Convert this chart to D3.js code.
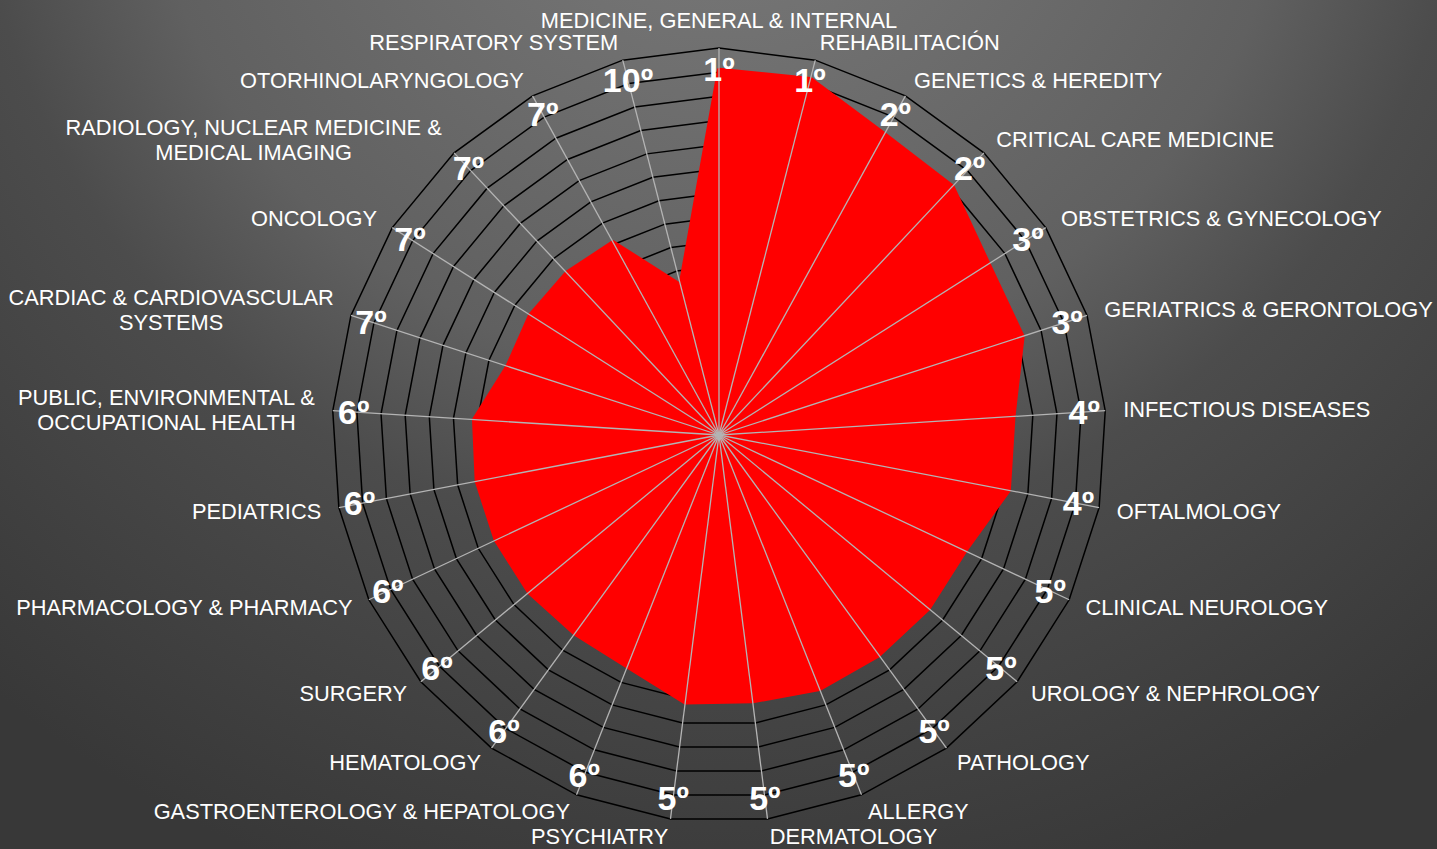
<!DOCTYPE html>
<html>
<head>
<meta charset="utf-8">
<style>
  body { margin: 0; background: #444; }
  svg { display: block; }
</style>
</head>
<body></body>

<script src='https://d3js.org/d3.v7.min.js'></script>
<script>

    const width = 1437;
    const height = 849;

    const categories = [
        "MEDICINE, GENERAL & INTERNAL", "REHABILITACIÓN", "GENETICS & HEREDITY",
        "CRITICAL CARE MEDICINE", "OBSTETRICS & GYNECOLOGY", "GERIATRICS & GERONTOLOGY",
        "INFECTIOUS DISEASES", "OFTALMOLOGY", "CLINICAL NEUROLOGY", "UROLOGY & NEPHROLOGY",
        "PATHOLOGY", "ALLERGY", "DERMATOLOGY", "PSYCHIATRY", "GASTROENTEROLOGY & HEPATOLOGY",
        "HEMATOLOGY", "SURGERY", "PHARMACOLOGY & PHARMACY", "PEDIATRICS",
        "PUBLIC, ENVIRONMENTAL &\nOCCUPATIONAL HEALTH", "CARDIAC & CARDIOVASCULAR\nSYSTEMS",
        "ONCOLOGY", "RADIOLOGY, NUCLEAR MEDICINE &\nMEDICAL IMAGING", "OTORHINOLARYNGOLOGY",
        "RESPIRATORY SYSTEM"
    ];
    const ranks = ["1º", "1º", "2º", "2º", "3º", "3º", "4º", "4º", "5º", "5º", "5º", "5º", "5º",
        "5º", "6º", "6º", "6º", "6º", "6º", "6º", "7º", "7º", "7º", "7º", "10º"];
    const values = [15.1, 15.2, 14.2, 14.1, 13.2, 13.2, 12.2, 12.2, 11.25, 11.25, 11.25, 11.3, 11.1,
        11.15, 10.3, 10.15, 10.2, 10.2, 10.2, 10.15, 9.2, 9.25, 9.2, 9.1, 6.4];
    const ringTicks = d3.range(1, 17); // 16 grid rings
    const maxValue = 16;

    const cx = 719, cy = 435, radius = 387;
    const n = categories.length;

    const r = d3.scaleLinear().domain([0, maxValue]).range([0, radius]);
    const angle = d3.scaleLinear().domain([0, n]).range([0, 2 * Math.PI]);

    const svg = d3.select("body").append("svg")
        .attr("width", width)
        .attr("height", height);

    // background
    const grad = svg.append("defs").append("radialGradient")
        .attr("id", "bg")
        .attr("gradientUnits", "userSpaceOnUse")
        .attr("cx", 719).attr("cy", -200).attr("r", 1150);
    [[0, "#787878"], [0.17, "#737373"], [0.5, "#606060"], [0.65, "#4c4c4c"],
     [0.91, "#3d3d3d"], [1, "#383838"]].forEach(function (s) {
        grad.append("stop").attr("offset", s[0]).attr("stop-color", s[1]);
    });
    svg.append("rect").attr("width", width).attr("height", height).attr("fill", "url(#bg)");

    const g = svg.append("g").attr("transform", "translate(" + cx + "," + cy + ")");

    const radial = d3.lineRadial()
        .angle(function (d, i) { return angle(i); })
        .curve(d3.curveLinearClosed);

    // grid rings
    g.selectAll(".ring")
        .data(ringTicks)
        .enter()
        .append("path")
        .attr("class", "ring")
        .attr("d", function (t) { return radial.radius(r(t))(categories); })
        .attr("fill", "none")
        .attr("stroke", "#000")
        .attr("stroke-width", 1.5);

    // data area
    g.append("path")
        .datum(values)
        .attr("d", d3.lineRadial()
            .angle(function (d, i) { return angle(i); })
            .radius(function (d) { return r(d); })
            .curve(d3.curveLinearClosed))
        .attr("fill", "#ff0000")
        .attr("stroke", "#ff0000")
        .attr("stroke-width", 4)
        .attr("stroke-linejoin", "round");

    // spokes
    g.selectAll(".spoke")
        .data(categories)
        .enter()
        .append("line")
        .attr("class", "spoke")
        .attr("x1", 0).attr("y1", 0)
        .attr("x2", function (d, i) { return r(maxValue) * Math.sin(angle(i)); })
        .attr("y2", function (d, i) { return -r(maxValue) * Math.cos(angle(i)); })
        .attr("stroke", "#b4b4b4")
        .attr("stroke-width", 1.3);

    // rank labels
    const rankR = radius - 21;
    g.selectAll(".rank")
        .data(ranks)
        .enter()
        .append("text")
        .attr("class", "rank")
        .attr("x", function (d, i) { return rankR * Math.sin(angle(i)); })
        .attr("y", function (d, i) { return -rankR * Math.cos(angle(i)); })
        .attr("dy", "0.35em")
        .attr("text-anchor", "middle")
        .attr("fill", "#fff")
        .style("font-family", "Liberation Sans, Arial, sans-serif")
        .style("font-weight", "bold")
        .style("font-size", "34px")
        .text(function (d) { return d; });

    // category labels
    const labR = radius + 18;
    const lineH = 25;
    categories.forEach(function (c, i) {
        const a = angle(i);
        const s = Math.sin(a), co = Math.cos(a);
        const lines = c.split("\n");
        let px = labR * s;
        let py = -labR * co;
        let side = s > 0.1 ? 1 : (s < -0.1 ? -1 : 0);
        if (side === 0) py = -(radius + 28) * co;
        const t = g.append("text")
            .attr("fill", "#fff")
            .attr("text-anchor", "middle")
            .style("font-family", "Liberation Sans, Arial, sans-serif")
            .style("font-size", "21.8px");
        const spans = lines.map(function (l, k) {
            return t.append("tspan")
                .attr("y", py + (k - (lines.length - 1) / 2) * lineH)
                .attr("dy", "0.35em")
                .text(l);
        });
        const w = d3.max(spans, function (sp) { return sp.node().getComputedTextLength(); });
        spans.forEach(function (sp) { sp.attr("x", px + side * w / 2); });
    });
</script>
</html>
